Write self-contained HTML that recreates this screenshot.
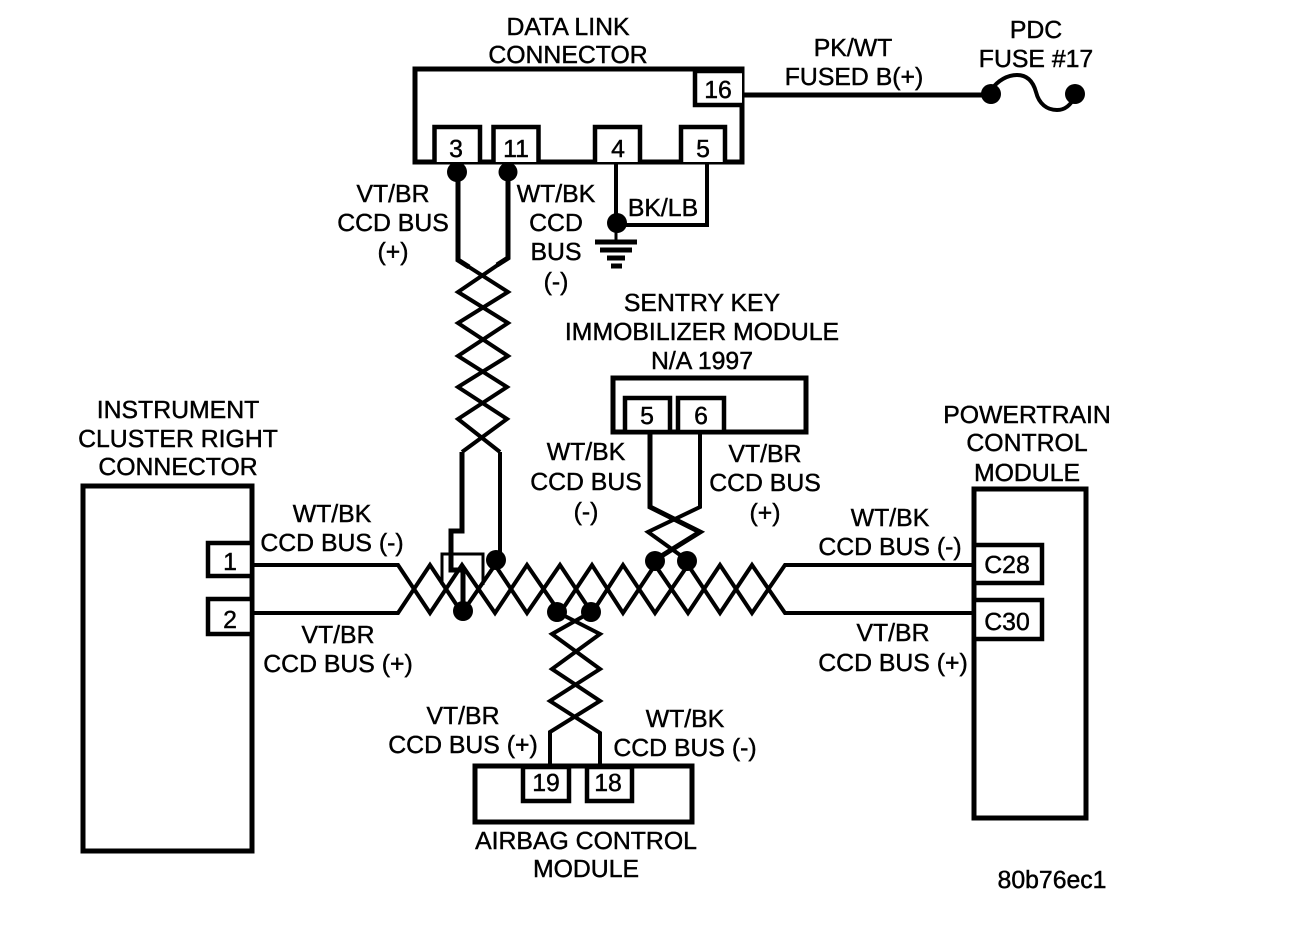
<!DOCTYPE html>
<html>
<head>
<meta charset="utf-8">
<style>
html,body{margin:0;padding:0;background:#fff;}
svg{display:block;}
text{font-family:"Liberation Sans",Arial,sans-serif;font-size:24.8px;fill:#000;text-anchor:middle;text-rendering:geometricPrecision;stroke:#000;stroke-width:.45;}
.b{fill:none;stroke:#000;stroke-width:5;stroke-linejoin:miter;}
.w{fill:none;stroke:#000;stroke-width:4;stroke-linejoin:miter;}
.t{fill:none;stroke:#000;stroke-width:3;stroke-linejoin:miter;}
.p{fill:#fff;stroke:#000;stroke-width:4.5;}
</style>
</head>
<body>
<svg width="1312" height="940" viewBox="0 0 1312 940" xmlns="http://www.w3.org/2000/svg">
<rect width="1312" height="940" fill="#fff"/>

<!-- Data link connector -->
<rect class="b" x="415" y="69" width="327" height="93"/>
<path class="p" d="M742 71H695V105H742"/>
<path class="p" d="M434.5 162V127H480V162"/>
<path class="p" d="M493.5 162V127H538.5V162"/>
<path class="p" d="M595 162V127H640V162"/>
<path class="p" d="M681 162V127H725V162"/>
<path class="b" d="M742 95H990"/>
<circle cx="991" cy="94" r="10"/>
<circle cx="1075" cy="94" r="10"/>
<path class="w" d="M991 90C998 80 1008 75 1017 75C1027 75 1033 81 1036 92C1039 104 1047 110 1057 110C1065 110 1071 105 1075 96"/>
<circle cx="457" cy="172" r="10"/>
<circle cx="508" cy="172" r="9.5"/>
<circle cx="617" cy="223" r="10"/>
<path class="w" d="M616 162V225H707V162"/>
<path class="t" d="M616 223V240"/>
<path class="b" d="M595 242H637M600 250H632M607 258H625M611 266H622"/>

<!-- Twist from DLC -->
<path class="b" d="M458 172V260L469 267"/>
<path class="b" d="M508 172V258L497 265"/>
<path class="w" d="M458 260L508 292L458 323L508 356L458 387L507 419L462 452"/>
<path class="w" d="M508 258L458 292L508 323L458 356L507 387L458 419L500 452"/>
<path class="b" d="M462 452V531H451V570H463V611"/>
<path class="w" d="M500 452V558"/>

<!-- Sentry module -->
<rect class="b" x="613" y="378" width="193" height="54"/>
<rect class="p" x="625" y="398" width="45" height="34"/>
<rect class="p" x="678" y="398" width="46" height="34"/>
<path class="b" d="M650 432V507L700 532L655 560"/>
<path class="w" d="M700 432V507L648 532L687 560"/>
<circle cx="655" cy="561" r="10"/>
<circle cx="687" cy="561" r="10"/>

<!-- Instrument cluster -->
<rect class="b" x="83" y="486" width="169" height="365"/>
<rect class="p" x="208" y="543" width="44" height="33"/>
<rect class="p" x="208" y="599" width="44" height="35"/>

<!-- Powertrain -->
<rect class="b" x="974" y="489" width="112" height="329"/>
<rect class="p" x="974" y="545" width="68" height="38"/>
<rect class="p" x="974" y="600" width="68" height="39"/>

<!-- Main twisted pair -->
<path class="w" d="M252 565H398L430 613L462 565L495 613L527 565L560 613L592 565L623 613L655 565L688 613L720 565L752 613L785 565H974"/>
<path class="w" d="M252 613H398L430 565L462 613L495 565L527 613L560 565L592 613L623 565L655 613L688 565L720 613L752 565L785 613H974"/>
<path class="t" d="M442 585V554H483V585"/>
<circle cx="463" cy="611" r="10"/>
<circle cx="496" cy="560" r="10"/>
<circle cx="557" cy="612" r="10"/>
<circle cx="591" cy="612" r="10"/>

<!-- Airbag twist -->
<path class="w" d="M557 612L600 634L552 669L600 701L550 732V766"/>
<path class="w" d="M591 612L552 634L600 669L550 701L600 733V766"/>
<rect class="b" x="475" y="766" width="217" height="56"/>
<rect class="p" x="523" y="767" width="46" height="34"/>
<rect class="p" x="587" y="767" width="45" height="34"/>

<!-- Labels -->
<text x="568" y="35">DATA LINK</text>
<text x="568" y="63">CONNECTOR</text>
<text x="853" y="56">PK/WT</text>
<text x="854" y="85">FUSED B(+)</text>
<text x="1036" y="38">PDC</text>
<text x="1036" y="67">FUSE #17</text>
<text x="393" y="202">VT/BR</text>
<text x="393" y="231">CCD BUS</text>
<text x="393" y="260">(+)</text>
<text x="556" y="202">WT/BK</text>
<text x="556" y="231">CCD</text>
<text x="556" y="260">BUS</text>
<text x="556" y="290">(-)</text>
<text x="663" y="216">BK/LB</text>
<text x="702" y="311">SENTRY KEY</text>
<text x="702" y="340">IMMOBILIZER MODULE</text>
<text x="702" y="369">N/A 1997</text>
<text x="178" y="418">INSTRUMENT</text>
<text x="178" y="447">CLUSTER RIGHT</text>
<text x="178" y="475">CONNECTOR</text>
<text x="1027" y="423">POWERTRAIN</text>
<text x="1027" y="451">CONTROL</text>
<text x="1027" y="481">MODULE</text>
<text x="332" y="522">WT/BK</text>
<text x="332" y="551">CCD BUS (-)</text>
<text x="338" y="643">VT/BR</text>
<text x="338" y="672">CCD BUS (+)</text>
<text x="586" y="460">WT/BK</text>
<text x="586" y="490">CCD BUS</text>
<text x="586" y="520">(-)</text>
<text x="765" y="462">VT/BR</text>
<text x="765" y="491">CCD BUS</text>
<text x="765" y="521">(+)</text>
<text x="890" y="526">WT/BK</text>
<text x="890" y="555">CCD BUS (-)</text>
<text x="893" y="641">VT/BR</text>
<text x="893" y="671">CCD BUS (+)</text>
<text x="463" y="724">VT/BR</text>
<text x="463" y="753">CCD BUS (+)</text>
<text x="685" y="727">WT/BK</text>
<text x="685" y="756">CCD BUS (-)</text>
<text x="586" y="849">AIRBAG CONTROL</text>
<text x="586" y="877">MODULE</text>
<text x="1052" y="888">80b76ec1</text>

<!-- Pins -->
<text x="718" y="98">16</text>
<text x="456" y="157">3</text>
<text x="516" y="157">11</text>
<text x="618" y="157">4</text>
<text x="703" y="157">5</text>
<text x="647" y="424">5</text>
<text x="701" y="424">6</text>
<text x="230" y="570">1</text>
<text x="230" y="628">2</text>
<text x="1007" y="573">C28</text>
<text x="1007" y="630">C30</text>
<text x="546" y="791">19</text>
<text x="608" y="791">18</text>
</svg>
</body>
</html>
